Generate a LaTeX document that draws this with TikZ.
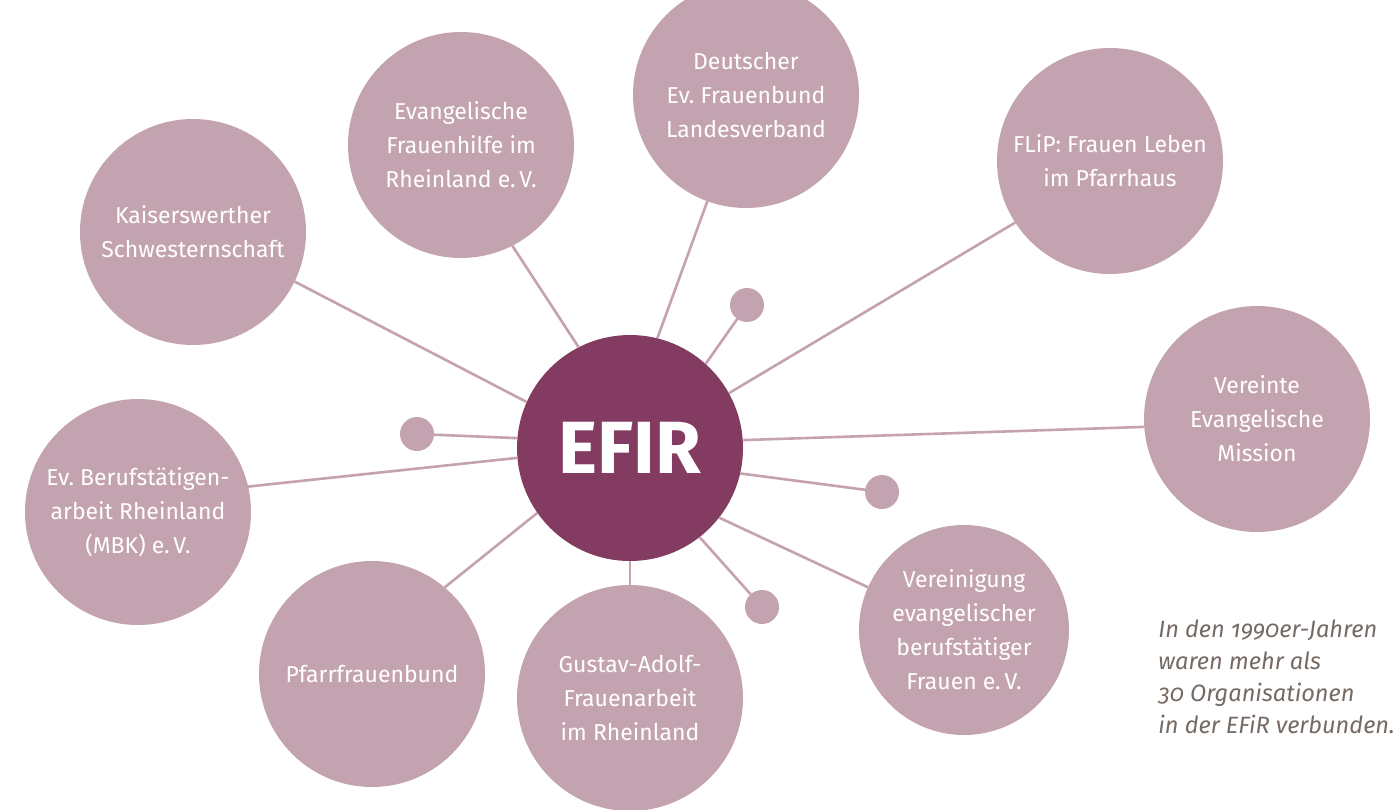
\documentclass[tikz,border=0pt]{standalone}
\usepackage{fontspec}
\setmainfont{Fira Sans}
\newfontfamily\notefont[Numbers=OldStyle]{Fira Sans}
\frenchspacing
\definecolor{mauve}{HTML}{C4A3B1}
\definecolor{linecol}{HTML}{C4A2B0}
\definecolor{efircol}{HTML}{843B61}
\definecolor{notecol}{HTML}{766A65}
\tikzset{
  org/.style={circle, fill=mauve, draw=none, minimum size=113pt, inner sep=0pt, outer sep=0pt,
    text=white, align=center, font=\fontsize{11.5}{17}\selectfont},
  orgsmall/.style={org, minimum size=105pt},
  dot/.style={circle, fill=mauve, draw=none, minimum size=17pt, inner sep=0pt, outer sep=0pt},
  hub/.style={circle, fill=efircol, draw=none, minimum size=113pt, inner sep=0pt, outer sep=0pt,
    text=white, font=\fontsize{37}{40}\selectfont\bfseries},
  link/.style={draw=linecol, line width=1.3pt},
  note/.style={anchor=north west, align=left, text=notecol, inner sep=0pt,
    font=\notefont\itshape\fontsize{11.8}{16}\selectfont}
}
\begin{document}
\begin{tikzpicture}[x=0.5pt, y=-0.5pt]
\clip (0,0) rectangle (1398,809);
\fill[white] (0,0) rectangle (1398,809);

\node[hub] (efir) at (630,448) {EFIR};

\node[org] (kais) at (193,232) {Kaiserswerther\\Schwesternschaft};
\node[org] (hilfe) at (461,145) {Evangelische\\Frauenhilfe im\\Rheinland e.\,V.};
\node[org] (dfb) at (746,95) {Deutscher\\Ev. Frauenbund\\Landesverband};
\node[org] (flip) at (1110,161) {FLiP: Frauen Leben\\im Pfarrhaus};
\node[org] (vem) at (1257,419) {Vereinte\\Evangelische\\Mission};
\node[orgsmall] (verein) at (964,630) {Vereinigung\\evangelischer\\berufstätiger\\Frauen e.\,V.};
\node[org] (gustav) at (630,698) {Gustav-Adolf-\\Frauenarbeit\\im Rheinland};
\node[org] (pfarr) at (372,674) {Pfarrfrauenbund};
\node[org] (beruf) at (138,512) {Ev. Berufstätigen-\\arbeit Rheinland\\(MBK) e.\,V.};

\node[dot] (dtop) at (747,305) {};
\node[dot] (dleft) at (417,434) {};
\node[dot] (dright) at (882,492) {};
\node[dot] (dbottom) at (762,607) {};

\draw[link] (kais.-26.1) -- (efir.156.8);
\draw[link] (hilfe.-63.4) -- (efir.117.7);
\draw[link] (dfb.-110.5) -- (efir.76.3);
\draw[link] (flip.213.3) -- (efir.29.2);
\draw[link] (vem.184) -- (efir.4);
\draw[link] (verein.156.3) -- (efir.322.1);
\draw[link] (gustav.90) -- (efir.270);
\draw[link] (pfarr.50.5) -- (efir.215.8);
\draw[link] (beruf.13.3) -- (efir.185.6);

\draw[link] (efir.48.6) -- (dtop);
\draw[link] (efir.175.4) -- (dleft);
\draw[link] (efir.347.9) -- (dright);
\draw[link] (efir.308.7) -- (dbottom);

\node[note] (txt) at (1158,619) {In den 1990er-Jahren\\waren mehr als\\30 Organisationen\\in der EFiR verbunden.};
\end{tikzpicture}
\end{document}
